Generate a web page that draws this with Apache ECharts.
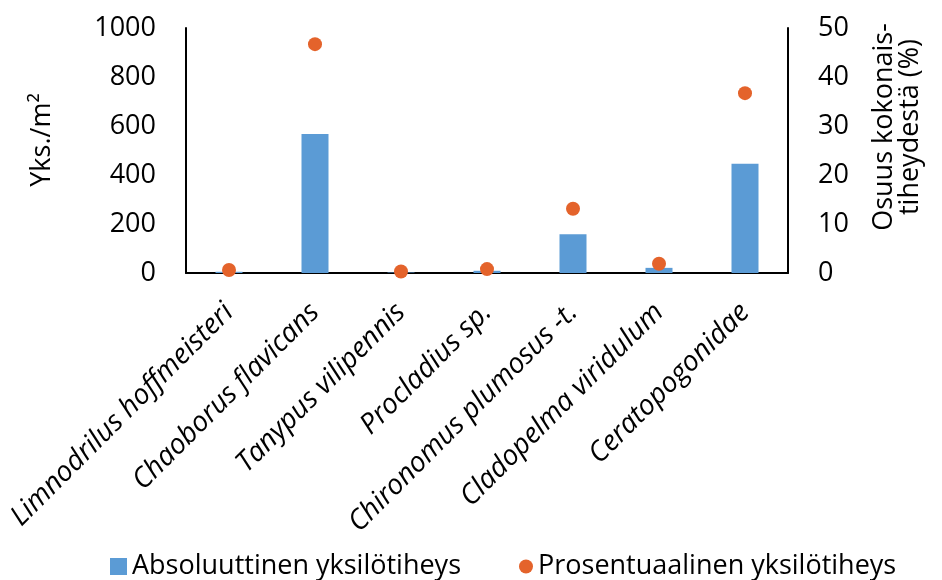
<!DOCTYPE html>
<html><head><meta charset="utf-8">
<script src="https://cdn.jsdelivr.net/npm/echarts@6/dist/echarts.min.js"></script>
<style>html,body{margin:0;padding:0;background:#fff}#c{width:942px;height:580px}</style>
</head><body><div id="c"></div>
<script>
const categories = ['Limnodrilus hoffmeisteri','Chaoborus flavicans','Tanypus vilipennis','Procladius sp.','Chironomus plumosus -t.','Cladopelma viridulum','Ceratopogonidae'];
const absoluteValues = [5, 567, 2, 9, 158, 21, 446];
const percentValues = [0.6, 46.7, 0.3, 0.8, 13.1, 1.9, 36.7];
const leftTicks = [0, 200, 400, 600, 800, 1000];
const rightTicks = [0, 10, 20, 30, 40, 50];
const seriesNames = ['Absoluuttinen yksilötiheys', 'Prosentuaalinen yksilötiheys'];
const leftAxisName = 'Yks./m²';
const rightAxisName = 'Osuus kokonais-\ntiheydestä (%)';

const font = 'Open Sans';
const legendText = {fontFamily: font, fontSize: 27, color: '#000'};
const chart = echarts.init(document.getElementById('c'));
chart.setOption({
  animation: false,
  textStyle: {fontFamily: font, color: '#000'},
  grid: {left: 186, right: 154, top: 28, bottom: 307, containLabel: false},
  legend: [{
    left: 105, top: 548, itemWidth: 17, itemHeight: 17, itemGap: 8,
    textStyle: legendText,
    data: [{name: seriesNames[0], icon: 'rect'}]
  }, {
    left: 514, top: 548, itemWidth: 14, itemHeight: 14, itemGap: 8,
    textStyle: legendText,
    data: [{name: seriesNames[1], icon: 'circle'}]
  }],
  graphic: [
    {type: 'text', x: 42, y: 140, rotation: Math.PI/2,
     style: {text: leftAxisName, font: '27px "Open Sans"', fill: '#000', align: 'center', verticalAlign: 'middle'}},
    {type: 'text', x: 897, y: 127, rotation: Math.PI/2,
     style: {text: rightAxisName, font: '27px "Open Sans"', fill: '#000', align: 'center', verticalAlign: 'middle', lineHeight: 26}}
  ],
  xAxis: {
    type: 'category', data: categories,
    axisLine: {lineStyle: {color: '#000', width: 2}},
    axisTick: {show: false},
    axisLabel: {rotate: 45, interval: 0, margin: 35, fontSize: 28, fontStyle: 'italic', color: '#000', fontFamily: font}
  },
  yAxis: [{
    type: 'value', min: 0, max: leftTicks[leftTicks.length-1], interval: 200,
    axisLine: {show: true, lineStyle: {color: '#000', width: 2}},
    axisTick: {show: false}, splitLine: {show: false},
    axisLabel: {fontSize: 27, color: '#000', margin: 30, fontFamily: font, formatter: v => String(v)}
  }, {
    type: 'value', min: 0, max: rightTicks[rightTicks.length-1], interval: 10,
    position: 'right',
    axisLine: {show: true, lineStyle: {color: '#000', width: 2}},
    axisTick: {show: false}, splitLine: {show: false},
    axisLabel: {fontSize: 27, color: '#000', margin: 30, fontFamily: font, formatter: v => String(v)}
  }],
  series: [{
    name: seriesNames[0], type: 'bar', data: absoluteValues, yAxisIndex: 0,
    barWidth: 27, itemStyle: {color: '#5B9BD5'}
  }, {
    name: seriesNames[1], type: 'scatter', data: percentValues, yAxisIndex: 1,
    symbol: 'circle', symbolSize: 14, itemStyle: {color: '#E4632B', opacity: 1}
  }]
});
</script></body></html>
